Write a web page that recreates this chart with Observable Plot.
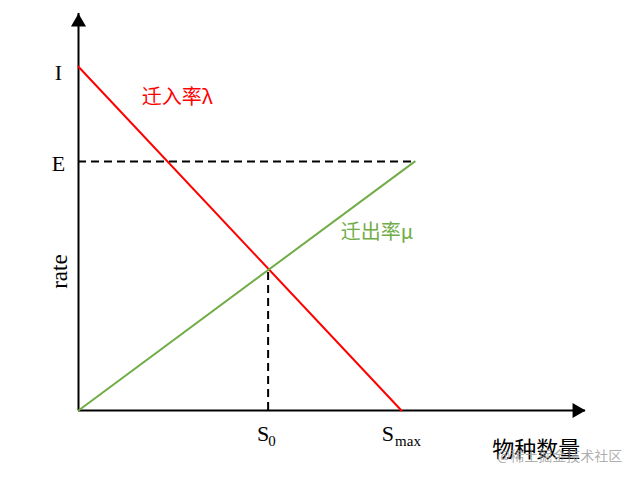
<!DOCTYPE html>
<html>
<head>
<meta charset="utf-8">
<script src="https://cdn.jsdelivr.net/npm/d3@7"></script>
<script src="https://cdn.jsdelivr.net/npm/@observablehq/plot@0.6"></script>
<style>
  html, body { margin: 0; padding: 0; background: #fff; }
  #chart svg { display: block; }
</style>
</head>
<body>
<div id="chart"></div>
<script>
// Values (data units: both axes 0..100 up to the arrow tips)
const rateTickLabels = ["I", "E"];
const rateTickValues = [86.6, 62.7];          // I = max immigration, E = max emigration
const speciesTickLabels = ["S", "S"];
const speciesTickSubs = ["0", "max"];
const speciesTickValues = [37.4, 63.7];       // S0, Smax
const emigrationEndX = 66.3;                  // green line ends here at rate E
const equilibriumRate = 35.7;                 // rate at S0

const immigration = [
  {x: 0, y: rateTickValues[0]},
  {x: speciesTickValues[1], y: 0}
];
const emigration = [
  {x: 0, y: 0},
  {x: emigrationEndX, y: rateTickValues[1]}
];

const serif = "'Liberation Serif', 'Times New Roman', serif";
const cjk = "'Noto Sans CJK SC', sans-serif";

// per-label offsets (layout only)
const rateTickDy = [6, 2];
const sDx = [-5, -13.5];
const subDx = [4, 6.5];

const tickMarks = [];
rateTickValues.forEach((v, i) => {
  tickMarks.push(Plot.text([v], {x: 0, y: d => d, text: () => rateTickLabels[i], dx: -20, dy: rateTickDy[i], fontFamily: serif, fontSize: 22, fill: "black", textAnchor: "middle"}));
});
speciesTickValues.forEach((v, i) => {
  tickMarks.push(Plot.text([v], {x: d => d, y: 0, text: () => speciesTickLabels[i], dx: sDx[i], dy: 23, fontFamily: serif, fontSize: 22, fill: "black", textAnchor: "middle"}));
  tickMarks.push(Plot.text([v], {x: d => d, y: 0, text: () => speciesTickSubs[i], dx: subDx[i], dy: 31, fontFamily: serif, fontSize: 15, fill: "black", textAnchor: "middle", letterSpacing: 1}));
});

const chart = Plot.plot({
  width: 634,
  height: 478,
  marginLeft: 78,
  marginRight: 49,
  marginTop: 13,
  marginBottom: 68,
  x: {domain: [0, 100], axis: null},
  y: {domain: [0, 100], axis: null},
  marks: [
    // axes
    Plot.ruleY([0], {x1: 0, x2: 100, stroke: "black", strokeWidth: 2}),
    Plot.ruleX([0], {y1: 0, y2: 100, stroke: "black", strokeWidth: 2}),
    Plot.dot([{x: 100, y: 0}], {x: "x", y: "y", symbol: "triangle", r: 5.6, fill: "black", stroke: null, rotate: 90, dx: -8.6}),
    Plot.dot([{x: 0, y: 100}], {x: "x", y: "y", symbol: "triangle", r: 5.6, fill: "black", stroke: null, dy: 8.6}),
    // dashed guides
    Plot.ruleY([rateTickValues[1]], {x1: 0, x2: emigrationEndX, stroke: "black", strokeWidth: 2, strokeDasharray: "8,5"}),
    Plot.ruleX([speciesTickValues[0]], {y1: 0, y2: equilibriumRate, stroke: "black", strokeWidth: 2, strokeDasharray: "8,5"}),
    // curves
    Plot.line(immigration, {x: "x", y: "y", stroke: "#ff0000", strokeWidth: 2}),
    Plot.line(emigration, {x: "x", y: "y", stroke: "#70ad47", strokeWidth: 2}),
    ...tickMarks,
    // axis titles
    Plot.text(["rate"], {x: 0, y: 35, dx: -19, rotate: -90, fontFamily: serif, fontSize: 23, fill: "black", textAnchor: "middle"}),
    Plot.text(["物种数量"], {x: 90.3, y: 0, dy: 39, fontFamily: cjk, fontSize: 22, fill: "black", textAnchor: "middle"}),
    // series labels
    Plot.text(["迁入率λ"], {x: 19.5, y: 78.8, fontFamily: cjk, fontSize: 20, fill: "#ff0000", textAnchor: "middle"}),
    Plot.text(["迁出率μ"], {x: 58.9, y: 44.8, fontFamily: cjk, fontSize: 20, fill: "#70ad47", textAnchor: "middle"}),
    // watermark
    Plot.text(["@稀土掘金技术社区"], {x: 94.9, y: 0, dy: 46, fontFamily: cjk, fontSize: 14, fill: "#999999", fillOpacity: 0.8, textAnchor: "middle"})
  ]
});
document.getElementById("chart").appendChild(chart);
</script>
</body>
</html>
